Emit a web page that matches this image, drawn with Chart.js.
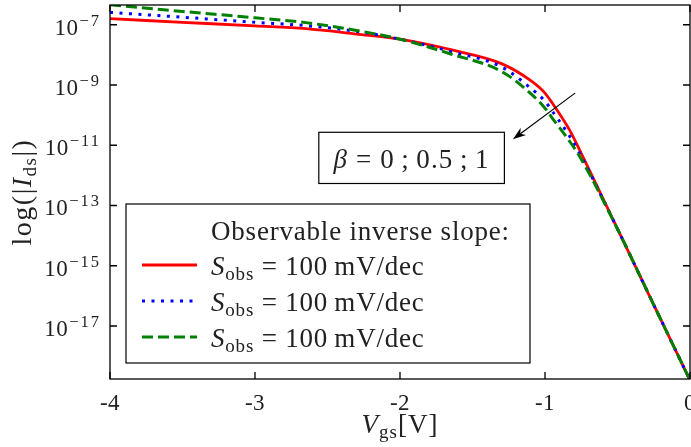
<!DOCTYPE html>
<html>
<head>
<meta charset="utf-8">
<script src="https://cdn.jsdelivr.net/npm/chart.js"></script>
<style>
  html, body { margin: 0; padding: 0; background: #fff; }
  #wrap { width: 691px; height: 447px; }
</style>
</head>
<body>
<div id="wrap"><canvas id="chart" width="691" height="447"></canvas></div>
<script>
// ゲート電圧 V_gs [V]
const vgs = [-4, -3.5, -3, -2.65, -2.3, -2, -1.65, -1.3, -1.1, -1.0, -0.95, -0.83, -0.76, -0.5, -0.25, 0];
// log10(|I_ds|) を図から読み取った値
const logIdsBeta0  = [-6.80, -6.92, -7.04, -7.13, -7.31, -7.48, -7.83, -8.29, -8.85, -9.27, -9.60, -10.50, -11.17, -13.78, -16.30, -18.80];
const logIdsBeta05 = [-6.59, -6.75, -6.92, -7.03, -7.22, -7.48, -7.89, -8.40, -9.10, -9.54, -9.87, -10.70, -11.28, -13.78, -16.30, -18.80];
const logIdsBeta1  = [-6.34, -6.56, -6.77, -6.93, -7.19, -7.48, -7.97, -8.55, -9.28, -9.77, -10.10, -10.87, -11.38, -13.78, -16.30, -18.80];

// 目盛り
const xTicks = [-4, -3, -2, -1, 0];
const yTickExponents = [-7, -9, -11, -13, -15, -17];

const legendTitle = 'Observable inverse slope:';
const legendLabel = ['S', 'obs', ' = 100\u2009mV/dec'];
const betaLabel = ['\u03b2', ' = 0\u2009;\u20090.5\u2009;\u20091'];

const SERIF = '"Liberation Serif", "DejaVu Serif", serif';

function toPoints(logs) {
    return vgs.map((v, i) => ({ x: v, y: Math.pow(10, logs[i]) }));
}

// 複数書式のテキストを描画
function drawParts(ctx, parts, x, y, align, spacing) {
    ctx.letterSpacing = (spacing || 0) + 'px';
    let w = 0;
    parts.forEach(p => { ctx.font = p[1]; w += ctx.measureText(p[0]).width; });
    let cx = align === 'center' ? x - w / 2 : (align === 'right' ? x - w : x);
    parts.forEach(p => {
        ctx.font = p[1];
        ctx.fillText(p[0], cx, y + (p[2] || 0));
        cx += ctx.measureText(p[0]).width;
    });
    ctx.letterSpacing = '0px';
    return w;
}

const decorPlugin = {
    id: 'decor',
    afterDatasetsDraw(chart) {
        const { ctx, chartArea: a, scales: { x, y } } = chart;
        const ds = chart.data.datasets;
        ctx.save();
        ctx.fillStyle = '#222';
        ctx.strokeStyle = '#000';
        ctx.textAlign = 'left';
        ctx.textBaseline = 'alphabetic';

        // 枠
        ctx.lineWidth = 1.3;
        ctx.strokeRect(a.left, a.top, a.right - a.left, a.bottom - a.top);

        // x 目盛り（内向き、上下）
        x.ticks.forEach(t => {
            const px = x.getPixelForValue(t.value);
            ctx.beginPath();
            ctx.moveTo(px, a.bottom); ctx.lineTo(px, a.bottom - 7);
            ctx.moveTo(px, a.top); ctx.lineTo(px, a.top + 7);
            ctx.stroke();
            drawParts(ctx, [[String(t.value), '23px ' + SERIF]], px, a.bottom + 31, 'center', 0.5);
        });

        // y 目盛り（内向き、左右）
        y.ticks.forEach(t => {
            const py = y.getPixelForValue(t.value);
            ctx.beginPath();
            ctx.moveTo(a.left, py); ctx.lineTo(a.left + 7, py);
            ctx.moveTo(a.right, py); ctx.lineTo(a.right - 7, py);
            ctx.stroke();
            const e = Math.round(Math.log10(t.value));
            ctx.letterSpacing = '2px';
            ctx.font = '16.5px ' + SERIF;
            const sup = '\u2212' + Math.abs(e);
            const sw = ctx.measureText(sup).width;
            ctx.fillText(sup, a.left - 9 - sw, py + 1);
            ctx.letterSpacing = '0.5px';
            ctx.font = '23px ' + SERIF;
            ctx.textAlign = 'right';
            ctx.fillText('10', a.left - 9 - sw - 1, py + 10);
            ctx.textAlign = 'left';
            ctx.letterSpacing = '0px';
        });

        // 軸タイトル
        drawParts(ctx, [
            ['V', 'italic 27px ' + SERIF],
            ['gs', '19px ' + SERIF, 5],
            ['[V]', '27px ' + SERIF]
        ], (a.left + a.right) / 2, 433, 'center', 1);

        ctx.save();
        ctx.translate(31, (a.top + a.bottom) / 2);
        ctx.rotate(-Math.PI / 2);
        drawParts(ctx, [
            ['log(|', '28px ' + SERIF],
            ['I', 'italic 28px ' + SERIF],
            ['ds', '19px ' + SERIF, 5],
            ['|)', '28px ' + SERIF]
        ], 0, 0, 'center', 1.5);
        ctx.restore();

        // 凡例
        ctx.fillStyle = '#fff';
        ctx.fillRect(126, 204, 404, 159);
        ctx.lineWidth = 1.2;
        ctx.strokeRect(126, 204, 404, 159);
        ctx.fillStyle = '#222';
        drawParts(ctx, [[legendTitle, '27px ' + SERIF]], 211, 240, 'left', 0.8);
        [265, 301, 337].forEach((ly, i) => {
            const d = ds[i];
            ctx.save();
            ctx.strokeStyle = d.borderColor;
            ctx.lineWidth = d.borderWidth;
            ctx.setLineDash(d.borderDash || []);
            ctx.beginPath();
            ctx.moveTo(142, ly); ctx.lineTo(197, ly);
            ctx.stroke();
            ctx.restore();
            drawParts(ctx, [
                [legendLabel[0], 'italic 27px ' + SERIF],
                [legendLabel[1], '19px ' + SERIF, 5],
                [legendLabel[2], '27px ' + SERIF]
            ], 211, ly + 10, 'left', 0.8);
        });

        // β ラベル
        const bx0 = x.getPixelForValue(-2.56), bx1 = x.getPixelForValue(-1.28);
        const by0 = y.getPixelForValue(Math.pow(10, -10.57)), by1 = y.getPixelForValue(Math.pow(10, -12.27));
        ctx.fillStyle = '#fff';
        ctx.fillRect(bx0, by0, bx1 - bx0, by1 - by0);
        ctx.lineWidth = 1.2;
        ctx.strokeRect(bx0, by0, bx1 - bx0, by1 - by0);
        ctx.fillStyle = '#222';
        drawParts(ctx, [
            [betaLabel[0], 'italic 27px ' + SERIF],
            [betaLabel[1], '27px ' + SERIF]
        ], (bx0 + bx1) / 2, by1 - 15, 'center', 1.1);

        // 矢印
        const ax0 = x.getPixelForValue(-0.793), ay0 = y.getPixelForValue(Math.pow(10, -9.27));
        const ax1 = x.getPixelForValue(-1.221), ay1 = y.getPixelForValue(Math.pow(10, -10.8));
        const ang = Math.atan2(ay1 - ay0, ax1 - ax0);
        ctx.strokeStyle = '#000';
        ctx.fillStyle = '#000';
        ctx.lineWidth = 1.2;
        ctx.beginPath();
        ctx.moveTo(ax0, ay0);
        ctx.lineTo(ax1 - 8 * Math.cos(ang), ay1 - 8 * Math.sin(ang));
        ctx.stroke();
        ctx.beginPath();
        ctx.moveTo(ax1, ay1);
        ctx.lineTo(ax1 - 13 * Math.cos(ang) + 4.5 * Math.sin(ang), ay1 - 13 * Math.sin(ang) - 4.5 * Math.cos(ang));
        ctx.lineTo(ax1 - 9 * Math.cos(ang), ay1 - 9 * Math.sin(ang));
        ctx.lineTo(ax1 - 13 * Math.cos(ang) - 4.5 * Math.sin(ang), ay1 - 13 * Math.sin(ang) + 4.5 * Math.cos(ang));
        ctx.closePath();
        ctx.fill();

        ctx.restore();
    }
};

new Chart(document.getElementById('chart'), {
    type: 'scatter',
    data: {
        datasets: [
            {
                label: 'beta = 0',
                data: toPoints(logIdsBeta0),
                showLine: true,
                borderColor: '#ff0000',
                borderWidth: 2.8,
                pointRadius: 0,
                cubicInterpolationMode: 'monotone',
                order: 3
            },
            {
                label: 'beta = 0.5',
                data: toPoints(logIdsBeta05),
                showLine: true,
                borderColor: '#0000ff',
                borderWidth: 3,
                borderDash: [3, 6.5],
                pointRadius: 0,
                cubicInterpolationMode: 'monotone',
                order: 2
            },
            {
                label: 'beta = 1',
                data: toPoints(logIdsBeta1),
                showLine: true,
                borderColor: '#008000',
                borderWidth: 3,
                borderDash: [11, 5],
                pointRadius: 0,
                cubicInterpolationMode: 'monotone',
                order: 1
            }
        ]
    },
    options: {
        responsive: false,
        animation: false,
        devicePixelRatio: 1,
        layout: { padding: { top: 5, right: 1, left: 0, bottom: 0 } },
        plugins: {
            legend: { display: false },
            tooltip: { enabled: false }
        },
        scales: {
            x: {
                type: 'linear',
                min: -4,
                max: 0,
                grid: { display: false },
                border: { display: false },
                ticks: { display: false },
                afterBuildTicks(s) { s.ticks = xTicks.map(v => ({ value: v })); },
                afterFit(s) { s.height = 68; }
            },
            y: {
                type: 'logarithmic',
                min: Math.pow(10, -18.76),
                max: Math.pow(10, -6.345),
                grid: { display: false },
                border: { display: false },
                ticks: { display: false },
                afterBuildTicks(s) { s.ticks = yTickExponents.map(e => ({ value: Math.pow(10, e) })); },
                afterFit(s) { s.width = 110; }
            }
        }
    },
    plugins: [decorPlugin]
});
</script>
</body>
</html>
